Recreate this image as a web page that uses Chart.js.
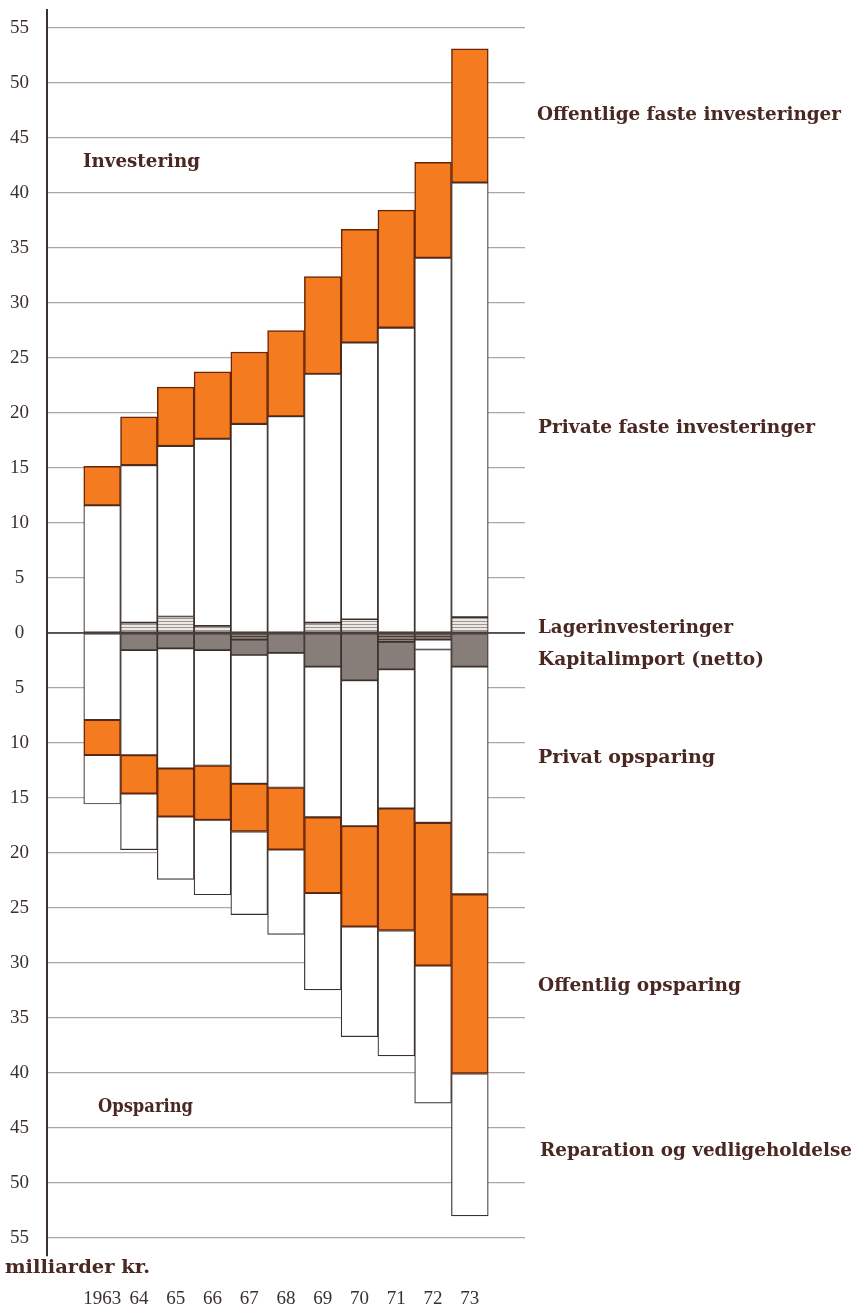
<!DOCTYPE html>
<html><head><meta charset="utf-8">
<script src="https://cdn.jsdelivr.net/npm/chart.js@4/dist/chart.umd.min.js"></script>
<style>html,body{margin:0;padding:0;background:#fff;}#wrap{width:853px;height:1306px;}</style>
</head><body><div id="wrap"><canvas id="c" width="853" height="1306"></canvas></div>
<script>
// ---- data (milliarder kr.) ----
const years = ['1963','64','65','66','67','68','69','70','71','72','73'];
const lagerinvesteringer = [0, 0.95, 1.5, 0.65, -0.6, 0, 0.95, 1.25, -0.8, -0.6, 1.45];
const privateFasteInvesteringer = [11.6, 14.3, 15.5, 17.0, 19.0, 19.7, 22.6, 25.15, 27.75, 34.1, 39.5];
const offentligeFasteInvesteringer = [3.55, 4.4, 5.35, 6.1, 6.55, 7.8, 8.85, 10.3, 10.7, 8.7, 12.15];
const kapitalimport = [0, -1.55, -1.4, -1.55, -1.4, -1.8, -3.05, -4.3, -2.5, -0.9, -3.05];
const privatOpsparing = [-7.9, -9.55, -10.9, -10.5, -11.7, -12.25, -13.7, -13.25, -12.65, -15.75, -20.7];
const offentligOpsparing = [-3.2, -3.5, -4.4, -4.95, -4.35, -5.65, -6.9, -9.15, -11.1, -13.0, -16.3];
const reparationOgVedligeholdelse = [-4.45, -5.1, -5.7, -6.8, -7.55, -7.7, -8.8, -10.0, -11.4, -12.5, -12.95];
const yTickValues = [-55,-50,-45,-40,-35,-30,-25,-20,-15,-10,-5,0,5,10,15,20,25,30,35,40,45,50,55];
const seriesLabels = ['Offentlige faste investeringer','Private faste investeringer','Lagerinvesteringer','Kapitalimport (netto)','Privat opsparing','Offentlig opsparing','Reparation og vedligeholdelse'];
const sideLabels = ['Investering','Opsparing','milliarder kr.'];

// ---- styles ----
const INK = '#3a302c';
const TEXT = '#4a2822';
const ORANGE = '#f47b20';
const ORANGE_EDGE = '#6b2405';
const GREY = '#877e79';
function stripes(c1, c2){
  const cv = document.createElement('canvas'); cv.width = 4; cv.height = 3;
  const g = cv.getContext('2d');
  g.fillStyle = c2; g.fillRect(0,0,4,3);
  g.fillStyle = c1; g.fillRect(0,0,4,1);
  return g.createPattern(cv,'repeat');
}
const lightHatch = stripes('#9c9591', '#ebe7e3');
const darkHatch = stripes('#4a3a34', '#8a7f79');

const labels = ['', ...years, ''];
const pad = a => [null, ...a, null];

const baseBar = {barPercentage:1, categoryPercentage:1, borderSkipped:false, borderWidth:1.2, stack:'s'};
const datasets = [
  {...baseBar, label: seriesLabels[2], data: pad(lagerinvesteringer),
    backgroundColor: c => (c.raw < 0 ? darkHatch : lightHatch), borderColor: INK},
  {...baseBar, label: seriesLabels[3], data: pad(kapitalimport),
    backgroundColor: c => (labels[c.dataIndex] === '72' ? '#ffffff' : GREY), borderColor: INK},
  {...baseBar, label: seriesLabels[1], data: pad(privateFasteInvesteringer), backgroundColor:'#ffffff', borderColor: INK},
  {...baseBar, label: seriesLabels[0], data: pad(offentligeFasteInvesteringer), backgroundColor: ORANGE, borderColor: ORANGE_EDGE, borderWidth:1.5},
  {...baseBar, label: seriesLabels[4], data: pad(privatOpsparing), backgroundColor:'#ffffff', borderColor: INK},
  {...baseBar, label: seriesLabels[5], data: pad(offentligOpsparing), backgroundColor: ORANGE, borderColor: ORANGE_EDGE, borderWidth:1.5},
  {...baseBar, label: seriesLabels[6], data: pad(reparationOgVedligeholdelse), backgroundColor:'#ffffff', borderColor: INK}
];

const texts = [
  [seriesLabels[0], 537, 115, 304],
  [seriesLabels[1], 538, 428, 277],
  [seriesLabels[2], 538, 628, 195],
  [seriesLabels[3], 538, 660, 226],
  [seriesLabels[4], 538, 758, 177],
  [seriesLabels[5], 538, 986, 203],
  [seriesLabels[6], 540, 1151, 312],
  [sideLabels[0], 83, 162, 117],
  [sideLabels[1], 98, 1107, 95],
  [sideLabels[2], 5, 1268, 145]
];

const annot = {
  id: 'annot',
  afterDatasetsDraw(chart){
    const {ctx, chartArea, scales} = chart;
    const y0 = scales.y.getPixelForValue(0);
    ctx.save();
    ctx.strokeStyle = INK; ctx.lineWidth = 1.5;
    ctx.beginPath(); ctx.moveTo(chartArea.left, y0); ctx.lineTo(chartArea.right, y0); ctx.stroke();
    ctx.fillStyle = TEXT;
    ctx.font = 'bold 18px "DejaVu Serif"';
    ctx.textBaseline = 'middle'; ctx.textAlign = 'left';
    for (const [t, x, y, w] of texts){
      const m = ctx.measureText(t).width;
      const s = w / m;
      ctx.save(); ctx.translate(x, y); ctx.scale(s, 1); ctx.fillText(t, 0, 0); ctx.restore();
    }
    ctx.restore();
  }
};

const noPad = s => { s.paddingTop = 0; s.paddingBottom = 0; s.paddingLeft = 0; s.paddingRight = 0; };

new Chart(document.getElementById('c'), {
  type: 'bar',
  data: {labels, datasets},
  plugins: [annot],
  options: {
    responsive: false, animation: false, devicePixelRatio: 1,
    layout: {padding: {top: 10, right: 328, left: 0, bottom: 0}},
    plugins: {legend: {display: false}, tooltip: {enabled: false}},
    scales: {
      x: {
        stacked: true,
        grid: {display: false}, border: {display: false},
        ticks: {font: {family: '"Liberation Serif"', size: 19}, color: INK, padding: 24, maxRotation: 0, autoSkip: false},
        afterFit: s => { s.height = 50; noPad(s); }
      },
      y: {
        stacked: true, min: -56.64, max: 56.64,
        afterBuildTicks: s => { s.ticks = yTickValues.map(v => ({value: v})); },
        afterFit: s => { s.width = 47; noPad(s); },
        grid: {drawTicks: false, color: '#a9a6a4', lineWidth: 1.2},
        border: {display: true, color: INK, width: 2},
        ticks: {crossAlign: 'center', padding: 18, font: {family: '"Liberation Serif"', size: 19}, color: INK,
          callback: v => String(Math.abs(v))}
      }
    }
  }
});
</script></body></html>
